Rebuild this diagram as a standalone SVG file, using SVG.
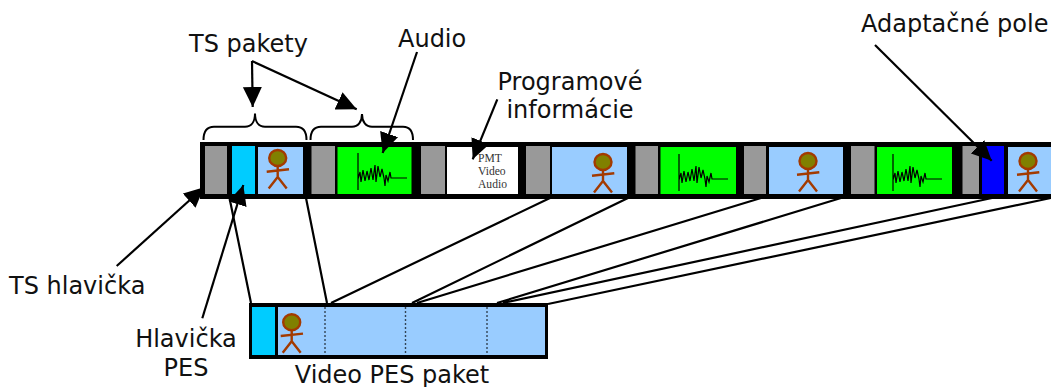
<svg xmlns="http://www.w3.org/2000/svg" xmlns:xlink="http://www.w3.org/1999/xlink" width="1051" height="387" viewBox="0 0 1051 387">
<style>
text{font-family:"DejaVu Sans",sans-serif;font-size:24px;fill:#111}
.pmt{font-family:"Liberation Serif",serif;font-size:11.6px;fill:#333}
.gray{fill:#999}.light{fill:#9cf}.cyan{fill:#0cf}.green{fill:#0f0}.blue{fill:#00f}.white{fill:#fff}.black{fill:#000}
.conn{fill:none;stroke:#000;stroke-width:2.2}
.arrow{marker-end:url(#head)}
.brace{fill:none;stroke:#000;stroke-width:2}
.dot{stroke:#345;stroke-width:1.4;stroke-dasharray:2 2;fill:none}
.fig{fill:none;stroke:#a33a00;stroke-width:2.4}
.head{fill:#808000;stroke:#a33a00;stroke-width:2.4}
.wave{fill:none;stroke:#000;stroke-width:1.2}
</style>
<defs>
<marker id="head" markerUnits="userSpaceOnUse" markerWidth="20" markerHeight="20" viewBox="0 0 20 20" refX="20" refY="10" orient="auto"><path d="M0 0.5L20 10L0 19.5Z" fill="#000"/></marker>
<g id="person">
<ellipse class="head" cx="0" cy="0" rx="8.5" ry="8"/>
<path class="fig" d="M-11 13.7L11.3 11.3M0 8V19M-9 30.5L0 19L9 30.5"/>
</g>
<g id="wave">
<path class="wave" d="M0 0V37M0 26L2 19L3 29L5 17L7 28L9 18L11 27L13 15L15 27L17 12L18 29L20 13L22 24L24 16L26 25L27 33L28 22L30 28L32 19L33 25H49"/>
</g>
</defs>
<g id="ts-stream">
<rect class="black" x="200" y="142" width="851" height="57"/>
<rect class="gray" x="205" y="146" width="22" height="48"/>
<rect class="cyan" x="232" y="146" width="23" height="48"/>
<rect class="light" x="258" y="147" width="45" height="47"/>
<use xlink:href="#person" href="#person" x="277.7" y="158"/>
<rect class="gray" x="311.5" y="146" width="23.5" height="48"/>
<rect class="green" x="337.5" y="147" width="74" height="47"/>
<use xlink:href="#wave" href="#wave" x="358" y="153"/>
<rect class="gray" x="421" y="146" width="24" height="48"/>
<rect class="white" x="447" y="147" width="71" height="47"/>
<text class="pmt" x="478" y="162">PMT</text>
<text class="pmt" x="478" y="175">Video</text>
<text class="pmt" x="478" y="188">Audio</text>
<rect class="gray" x="526" y="146" width="24" height="48"/>
<rect class="light" x="552" y="147" width="75" height="47"/>
<use xlink:href="#person" href="#person" x="603" y="162"/>
<rect class="gray" x="635.5" y="146" width="22.5" height="48"/>
<rect class="green" x="660.5" y="147" width="75.5" height="47"/>
<use xlink:href="#wave" href="#wave" x="679" y="154"/>
<rect class="gray" x="744" y="146" width="22" height="48"/>
<rect class="light" x="769" y="147" width="74" height="47"/>
<use xlink:href="#person" href="#person" x="808" y="161"/>
<rect class="gray" x="851" y="146" width="23.5" height="48"/>
<rect class="green" x="877" y="147" width="75" height="47"/>
<use xlink:href="#wave" href="#wave" x="893" y="154"/>
<rect class="gray" x="962.5" y="146" width="16.5" height="48"/>
<rect class="blue" x="982" y="146" width="22" height="48"/>
<rect class="light" x="1008" y="147" width="43" height="47"/>
<use xlink:href="#person" href="#person" x="1028" y="161"/>
</g>
<g id="pes-packet">
<rect class="black" x="249" y="303" width="299" height="56"/>
<rect class="cyan" x="252" y="307" width="23" height="48"/>
<rect class="light" x="278" y="307" width="267" height="48"/>
<use xlink:href="#person" href="#person" x="291.7" y="322.3"/>
<path class="dot" d="M325 307V355M405.5 307V355M487 307V355"/>
</g>
<g id="braces">
<path class="brace" d="M203.5 140C203.5 131 207 126.7 214 126.7H245C251 126.7 255 122 255 113.5C255 122 259 126.7 265 126.7H296C303 126.7 306.5 131 306.5 140"/>
<path class="brace" d="M310.5 140C310.5 131 314 126.7 321 126.7H352C358 126.7 362 122 362 114C362 122 366 126.7 372 126.7H403C410 126.7 413 131 413 140"/>
</g>
<g id="connectors">
<path class="conn" d="M229.5 198L251 303M306 198L327 303M550 198L331 303M628 198L412 303M761 198L417 303M841 198L497 303M992 198L503 303M1051 198L548 304"/>
<path class="conn arrow" d="M252 61L252.7 107"/>
<path class="conn arrow" d="M252 61L356.7 109.3"/>
<path class="conn arrow" d="M417 52L382.7 153"/>
<path class="conn arrow" d="M497.3 99.3L472.7 159.3"/>
<path class="conn arrow" d="M875 45L991.7 160.7"/>
<path class="conn arrow" d="M116.7 266L204 187.3"/>
<path class="conn arrow" d="M202.3 318.3L243.3 185"/>
</g>
<g id="labels">
<text x="189" y="52">TS pakety</text>
<text x="398" y="47">Audio</text>
<text x="570" y="90" text-anchor="middle">Programové</text>
<text x="570" y="118" text-anchor="middle">informácie</text>
<text x="861" y="32">Adaptačné pole</text>
<text x="9" y="294">TS hlavička</text>
<text x="186" y="347" text-anchor="middle">Hlavička</text>
<text x="186" y="376" text-anchor="middle">PES</text>
<text x="392" y="383" text-anchor="middle">Video PES paket</text>
</g>
</svg>
